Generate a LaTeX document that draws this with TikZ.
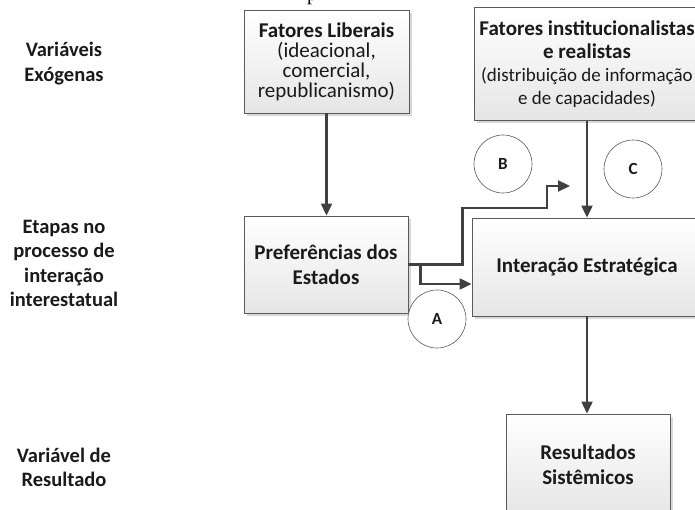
\documentclass[tikz,border=0pt]{standalone}
\usepackage{fontspec}
\setmainfont{Carlito}
\newfontfamily\serifp{Liberation Serif}
\usetikzlibrary{arrows.meta,shadows,calc}
\definecolor{linegray}{HTML}{404040}
\definecolor{boxline}{HTML}{5A5A5A}
\definecolor{txt}{HTML}{1A1A1A}
\newcommand{\menor}{\fontsize{19}{22.5}\selectfont}
\tikzset{
  fatorbox/.style={draw=boxline, line width=0.9pt, top color=white, bottom color=black!10,
    drop shadow={shadow xshift=3pt, shadow yshift=-3pt, fill=black!30, opacity=0.5},
    text=txt, align=center, font=\fontsize{21}{20}\selectfont, inner sep=0pt},
  etapabox/.style={fatorbox, font=\bfseries\fontsize{21}{25}\selectfont},
  letra/.style={circle, draw=boxline, line width=0.6pt, fill=white, minimum size=58pt,
    font=\bfseries\fontsize{17}{18}\selectfont, text=txt},
  nivel/.style={align=center, font=\bfseries\fontsize{20.5}{24.5}\selectfont, text=txt},
  seta/.style={draw=linegray, line width=2.2pt, -{Triangle[length=12pt,width=11pt]}},
}
\begin{document}
\begin{tikzpicture}[x=1pt, y=-1pt]
      \useasboundingbox (0,0) rectangle (695,510);
      \node[anchor=base west, inner sep=0pt, font=\serifp\fontsize{20}{20}\selectfont] (frag) at (307,1) {p};
      % niveis
      \node[nivel] (exog) at (64,63.5) {Variáveis\\Exógenas};
      \node[nivel] (etapas) at (64,263.5) {Etapas no\\processo de\\interação\\interestatual};
      \node[nivel] (result) at (64,467.5) {Variável de\\Resultado};
      % caixas
      \node[fatorbox, minimum width=165pt, minimum height=103pt] (lib) at (326.5,61.5)
        {\textbf{Fatores Liberais}\\(ideacional,\\comercial,\\republicanismo)};
      \node[fatorbox, minimum width=226pt, minimum height=113pt, font=\fontsize{21}{23}\selectfont] (inst) at (587,64)
        {\textbf{Fatores institucionalistas}\\\textbf{e realistas}\\{\menor(distribuição de informação}\\{\menor e de capacidades)}};
      \node[etapabox, minimum width=164pt, minimum height=97pt] (pref) at (326,264.5)
        {Preferências dos\\Estados};
      \node[etapabox, minimum width=230pt, minimum height=98pt] (inter) at (587,267)
        {Interação Estratégica};
      \node[etapabox, minimum width=164pt, minimum height=102pt] (res) at (588,465)
        {Resultados\\Sistêmicos};
      % circulos
      \node[letra] (cb) at (503,164) {B};
      \node[letra] (cc) at (633,169) {C};
      \node[letra] (ca) at (437,319) {A};
      % setas
      \draw[seta] (lib.south) -- (lib.south |- pref.north);
      \draw[seta] (inst.south) -- (inst.south |- inter.north);
      \draw[seta] (inter.south) -- (inter.south |- res.north);
      \coordinate (pontaB) at (570,186);
      \draw[seta] (pref.east) -- ++(54,0) |- (547,208) |- (pontaB);
      \coordinate (ramo) at ($(pref.east)+(12,0)$);
      \draw[seta] (ramo) |- ([yshift=-17pt]inter.west);
    \end{tikzpicture}
\end{document}
